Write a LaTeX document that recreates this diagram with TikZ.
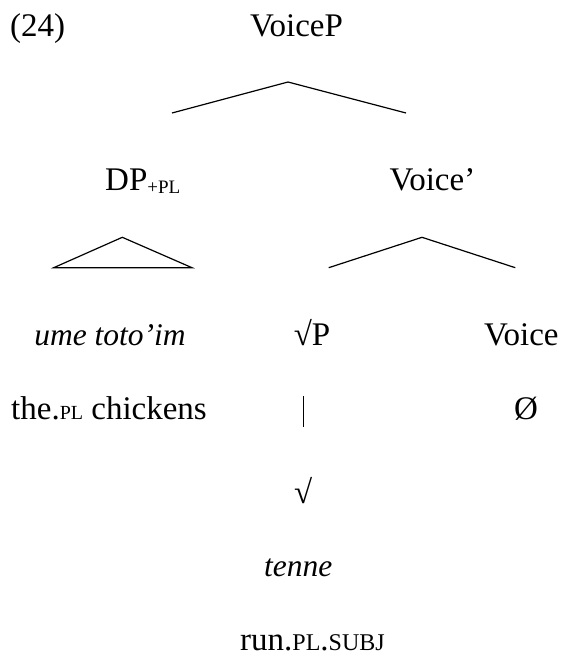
\documentclass[tikz,border=0pt]{standalone}
\usepackage{fontspec}
\setmainfont{Liberation Serif}
\newcommand\smca[1]{{\fontsize{20}{22}\selectfont #1}}
\newcommand\smcb[1]{{\fontsize{24}{26}\selectfont #1}}
\begin{document}
\begin{tikzpicture}[x=1pt,y=-1pt,
  lbl/.style={inner sep=0pt,anchor=base,font=\fontsize{33}{38}\selectfont},
  itl/.style={lbl,font=\fontsize{31.5}{36}\selectfont\itshape},
  branch/.style={line width=1.2pt,line join=miter}]
\useasboundingbox (0,0) rectangle (563,656);
\node[lbl,anchor=base west] (num) at (10,36) {(24)};
\node[lbl] (voicep) at (296.5,36) {VoiceP};
\node[lbl,anchor=base west] (dp) at (105,190) {DP\raisebox{-3pt}{\fontsize{19}{21}\selectfont +PL}};
\node[lbl,anchor=base west] (voicebar) at (389.5,190) {Voice’};
\node[itl] (ume) at (110,345.5) {ume toto’im};
\node[lbl] (rootp) at (312,345.5) {√P};
\node[lbl] (voice) at (521.3,345.5) {Voice};
\node[lbl,anchor=base west] (gloss1) at (11,419) {the.\smca{PL} chickens};
\node[lbl] (empty) at (526,419) {Ø};
\node[lbl] (root) at (303.3,503) {√};
\node[itl] (tenne) at (298.3,576.7) {tenne};
\node[lbl,text depth=0pt] (gloss2) at (312.5,650.5) {run.\smcb{PL}.\smcb{SUBJ}};
% branches
\coordinate (a1) at (288,82);
\coordinate (l1) at (172,113);
\coordinate (r1) at (406,113);
\draw[branch] (l1) -- (a1) -- (r1);
\coordinate (a2) at (122.3,237.3);
\coordinate (l2) at (53.7,267.7);
\coordinate (r2) at (192,267.7);
\draw[branch] (l2) -- (a2) -- (r2) -- cycle;
\coordinate (a3) at (422,237.3);
\coordinate (l3) at (328.7,267.7);
\coordinate (r3) at (515.3,267.7);
\draw[branch] (l3) -- (a3) -- (r3);
\coordinate (b1) at (303.5,396);
\coordinate (b2) at (303.5,426.7);
\draw[branch,line width=1pt] (b1) -- (b2);
\end{tikzpicture}
\end{document}
